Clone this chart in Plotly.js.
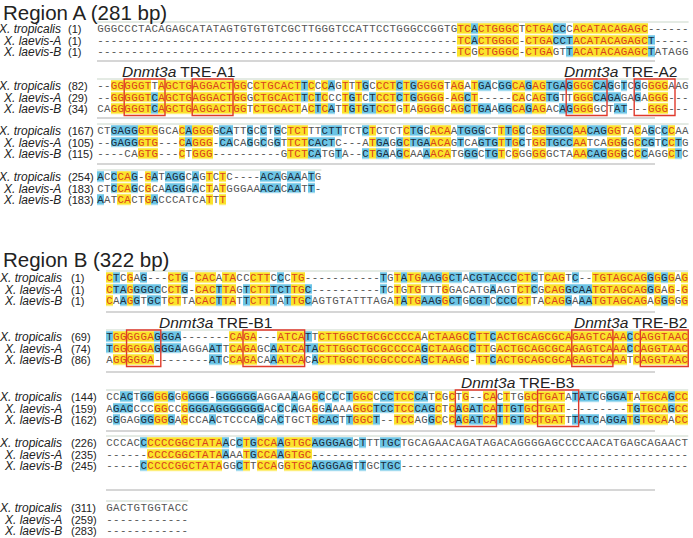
<!DOCTYPE html>
<html><head><meta charset="utf-8">
<script src="https://cdn.plot.ly/plotly-3.0.1.min.js"></script>
<style>html,body{margin:0;padding:0;background:#fff}#chart{width:693px;height:538px}</style>
</head><body><div id="chart"></div>
<script>
// ---------------- DATA ----------------
const species = ['X. tropicalis', 'X. laevis-A', 'X. laevis-B'];
const regionTitles = ['Region A (281 bp)', 'Region B (322 bp)'];

// Region A alignment blocks (87 columns each)
const regionA_block1 = [
  'GGGCCCTACAGAGCATATAGTGTGTGTCGCTTGGGTCCATTCCTGGGCCGGTG' + 'TCACTGGGC' + 'T' + 'CTGAC' + 'CC' + 'ACATACAGAGC' + '------',
  '-----------------------------------------------------' + 'TCACTGGGC' + '-' + 'CTGAC' + 'CT' + 'ACATACAGAGC' + 'T-----',
  '-----------------------------------------------------' + 'TCGCTGGGC' + '-' + 'CTGAG' + 'TT' + 'ACATACAGAGC' + 'TATAGG'
];
const regionA_block2 = [
  '--GGGGGTTAGCTGAGGACTGGCCTGCACTTCCCAGTTTGCCCTCTGGGGGTAGATGACGGCAGAGTGAGGGGCAGGTCGGGGGAAG',
  '--GGGGGTCAGCTGAGGACTGGGCTGCACTTCTCCCTGTCTCCTCTGGGGG-AGCT-----CACAGTGTTGGGCAGAGAGAGGG---',
  'CAGGGGGTCAGCTGAGGACTGGTCTGCACTACTCATTGTGTCCTGTAGGGGCAGCTGAAGGCAGAGACAGGGGGCTAT---GGG---'
];
const regionA_block3 = [
  'CTGAGGGTGGCACAGGGGCATTGCCTGCTCTTTCTTTCTCTCTCTCTGCACAATGGGCTTTGCCGGTGCCAACAGGGTACAGCCCAA',
  '--GAGGGTG---CAGGG-CACAGGCGGTTCTCACTC---ATGAGGCTGAACAGTCAGTGTTGCTGGTGCCAATCAGGGGCCGTCCTG',
  '----CAGTG---CTGGG----------GTCTCATGTA--CTGAAGCAAAACATGGGCTGTCGGGGGGCTAAACAGGGGCCCAGGCTC'
];
const regionA_block4 = [
  'ACCCAG-GATAGGCAGTCTC----ACAGAAATG',
  'CTCCAGCGCAAGGGACTATGGGAAACACAATT-',
  'AATCACTGACCCATCATTT'
];
const regionA_starts = [[1, 1, 1], [82, 29, 34], [167, 105, 115], [254, 183, 183]];

// Region B alignment blocks (85 columns each)
const regionB_block1 = [
  'CTCGAG---CTG-CACATACCCTTCCCTG' + '-----------' + 'TGTATGAAGGCTACGTACCCCTCTCAGTC--TGTAGCAGGGGGAG',
  'CTAGGGGCCCTG-CACTTAGTCTTTCTTGC' + '----------' + 'TCTGTGTTTGGACATGAAGTCTCGCAGGCAATGTAGCAGGGAG-G',
  'CAAGGTGCTCTTACACTTATTCTTTATTGCAGTGTATTTAGATATGAAGGCTGCGTCCCCCTTACAGGAAATGTAGCAGAGGGGG'
];
const regionB_block2 = [
  'TGGGGGAGGGA-------CAGA---ATCATTCTTGGCTGCGCCCCAACTAAGCCTTCACTGCAGCGCAGAGTCAAACCAGGTAAC',
  'TGGGGGAGGGAAGGAATTCAGAGCAATCATACTTGGCTGCGCCCCAGCTAAGCCTTGACTGCAGCGCAGAGTCAAACCAGGTAAC',
  'AGGGGGA--------ATCCAGACAAATCACACTTGGCTGCGCCCCAGCTAAGC-TTCACTGCAGCGCAGAGTCAAATCAGGTAAC'
];
const regionB_block3 = [
  'CCACTGGGGGGGGGG-GGGGGGAGGAAAAGGCCCCTGGCCCCTCCCATCGCTG--CACTTGGCTGATATATCGGGATATGCAGCC',
  'AGACCCCGGCCGGGGAGGGGGGGACCCAGAGGAAAAGGCTCCTCCCAGCTCAGATCATTGTGCTGAT---------TGTGCAGCC',
  'GGGAGGGGGGAGCCAACTCCCAGCACTGCTGCACTTGGCT--TCCAGGCCCAGATCATTGTGCTGATTTATCAGGATGTGCAACC'
];
const regionB_block4 = [
  'CCCACCCCCCGGCTATAACCTGCCAAGTGCAGGGAGCTTTTGCTGCAGAACAGATAGACAGGGGAGCCCCAACATGAGCAGAACT',
  '------CCCCGGCTATAAAATGCCAAGTGC' + '-------------------------------------------------------',
  '-----CCCCCGGCTATAGGCTTCCAGGTGCAGGGAGTTGCTGC' + '------------------------------------------'
];
const regionB_block5 = [
  'GACTGTGGTACC',
  '------------',
  '------------'
];
const regionB_starts = [[1, 1, 1], [69, 74, 86], [144, 159, 162], [226, 235, 245], [311, 259, 283]];

// TRE motif sites (alignment columns of the boxed half-sites)
const treLabelsA = ['TRE-A1', 'TRE-A2'];
const treSitesA = [[[5, 10], [15, 20]], [[70, 75], [80, 85]]];
const treLabelsB = ['TRE-B1', 'TRE-B2', 'TRE-B3'];
const treSitesB = [[[4, 8], [21, 29]], [[69, 74], [79, 85]], [[52, 57], [64, 69]]];

// ---------------- LAYOUT / STYLE ----------------
const YEL = '#fbe32b', BLU = '#6cc5e6';
const TXT_YEL = '#d9411e', TXT_BLU = '#1c2a3a', TXT_WHT = '#555555';
const geo = {
  A: { x0: 97, cw: 6.8, labelX: 63, numX: 66,
       rows: [[29, 40.5, 52], [86, 97.5, 109], [131, 142.5, 154], [177, 188.5, 200]],
       seps: [61, 118, 164], titleY: 12, treY: 71 },
  B: { x0: 106, cw: 6.85, labelX: 64, numX: 69,
       rows: [[278, 289.5, 301], [337, 348.5, 360], [397, 408.5, 420], [443, 454.5, 466], [508, 519.5, 531]],
       seps: [312, 372, 431, 490], titleY: 259 }
};

const traces = [], annotations = [], shapes = [];

function codeFor(col, r) {
  const c = col[r];
  if (c === '-' || c === ' ' || c === undefined) return 0;
  let n = 0;
  for (const o of col) if (o === c) n++;
  if (n === 3) return 1;
  if (n === 2) return 2;
  return 0;
}

function addBlock(g, seqs, starts, yRows) {
  const ncols = Math.max(...seqs.map(s => s.length));
  const rows = seqs.map(s => s.padEnd(ncols, ' '));
  const xs = [];
  for (let c = 0; c < ncols; c++) xs.push(g.x0 + (c + 0.5) * g.cw);
  const z = [], tx = [], ty = [], tt = [], tc = [];
  for (let r = 0; r < 3; r++) {
    const zr = [];
    for (let c = 0; c < ncols; c++) {
      const col = [rows[0][c], rows[1][c], rows[2][c]];
      const k = codeFor(col, r);
      zr.push(k);
      const ch = rows[r][c];
      if (ch !== ' ') {
        tx.push(xs[c]); ty.push(yRows[r] + 0.5); tt.push(ch);
        tc.push(k === 1 ? TXT_YEL : k === 2 ? TXT_BLU : TXT_WHT);
      }
    }
    z.push(zr);
  }
  traces.push({
    type: 'heatmap', x: xs, y: yRows, z: z, zmin: 0, zmax: 2, showscale: false,
    colorscale: [[0, 'rgba(255,255,255,0)'], [0.33, 'rgba(255,255,255,0)'], [0.34, YEL], [0.66, YEL], [0.67, BLU], [1, BLU]],
    xgap: 0, ygap: 1.5, hoverinfo: 'skip'
  });
  traces.push({
    type: 'scatter', mode: 'text', x: tx, y: ty, text: tt, textposition: 'middle center',
    textfont: { family: 'Liberation Mono, DejaVu Sans Mono, monospace', size: 10.8, color: tc },
    hoverinfo: 'skip', showlegend: false
  });
  shapes.push({ type: 'line', xref: 'x', yref: 'y', x0: g.x0, x1: g.x0 + ncols * g.cw,
    y0: yRows[0] - 7, y1: yRows[0] - 7, line: { color: '#c9d6c9', width: 1 } });
  for (let r = 0; r < 3; r++) {
    annotations.push({ x: g.labelX, y: yRows[r], xref: 'x', yref: 'y', xanchor: 'right', yanchor: 'middle',
      text: '<i>' + species[r] + '</i>', showarrow: false, font: { family: 'Arial, Liberation Sans', size: 12, color: '#222' } });
    annotations.push({ x: g.numX, y: yRows[r], xref: 'x', yref: 'y', xanchor: 'left', yanchor: 'middle',
      text: '(' + starts[r] + ')', showarrow: false, font: { family: 'Arial, Liberation Sans', size: 11, color: '#222' } });
  }
}

function addTRE(g, yRows, label, sites, labelY) {
  let lo = 1e9, hi = -1e9;
  for (const [c1, c2] of sites) {
    const xa = g.x0 + (c1 - 1) * g.cw, xb = g.x0 + c2 * g.cw;
    lo = Math.min(lo, xa); hi = Math.max(hi, xb);
    shapes.push({ type: 'rect', xref: 'x', yref: 'y', x0: xa, x1: xb, y0: yRows[0] - 7, y1: yRows[2] + 6.5,
      line: { color: '#e0392b', width: 1.4 }, fillcolor: 'rgba(0,0,0,0)' });
  }
  annotations.push({ x: (lo + hi) / 2, y: labelY, xref: 'x', yref: 'y', xanchor: 'center', yanchor: 'middle',
    text: '<i>Dnmt3a</i> ' + label, showarrow: false, font: { family: 'Arial, Liberation Sans', size: 15.5, color: '#222' } });
}

// Region A
const blocksA = [regionA_block1, regionA_block2, regionA_block3, regionA_block4];
blocksA.forEach((b, i) => addBlock(geo.A, b, regionA_starts[i], geo.A.rows[i]));
addTRE(geo.A, geo.A.rows[1], treLabelsA[0], treSitesA[0], geo.A.treY);
addTRE(geo.A, geo.A.rows[1], treLabelsA[1], treSitesA[1], geo.A.treY);

// Region B
const blocksB = [regionB_block1, regionB_block2, regionB_block3, regionB_block4, regionB_block5];
blocksB.forEach((b, i) => addBlock(geo.B, b, regionB_starts[i], geo.B.rows[i]));
addTRE(geo.B, geo.B.rows[1], treLabelsB[0], treSitesB[0], 322);
addTRE(geo.B, geo.B.rows[1], treLabelsB[1], treSitesB[1], 322);
addTRE(geo.B, geo.B.rows[2], treLabelsB[2], treSitesB[2], 382);

// separators between blocks
for (const y of geo.A.seps) shapes.push({ type: 'line', xref: 'x', yref: 'y', x0: geo.A.x0, x1: 655, y0: y, y1: y, line: { color: '#c8c8c8', width: 1.5 } });
for (const y of geo.B.seps) shapes.push({ type: 'line', xref: 'x', yref: 'y', x0: geo.B.x0, x1: 655, y0: y, y1: y, line: { color: '#c8c8c8', width: 1.5 } });

// region titles
annotations.push({ x: 1, y: geo.A.titleY, xref: 'x', yref: 'y', xanchor: 'left', yanchor: 'middle', text: regionTitles[0],
  showarrow: false, font: { family: 'Arial, Liberation Sans', size: 20.5, color: '#222' } });
annotations.push({ x: 1, y: geo.B.titleY, xref: 'x', yref: 'y', xanchor: 'left', yanchor: 'middle', text: regionTitles[1],
  showarrow: false, font: { family: 'Arial, Liberation Sans', size: 20.5, color: '#222' } });

const layout = {
  width: 693, height: 538, margin: { l: 0, r: 0, t: 0, b: 0 },
  paper_bgcolor: '#fff', plot_bgcolor: '#fff', showlegend: false,
  xaxis: { range: [0, 693], visible: false, fixedrange: true },
  yaxis: { range: [538, 0], visible: false, fixedrange: true },
  annotations: annotations, shapes: shapes
};
Plotly.newPlot('chart', traces, layout, { staticPlot: true, displayModeBar: false });
</script>
</body></html>
